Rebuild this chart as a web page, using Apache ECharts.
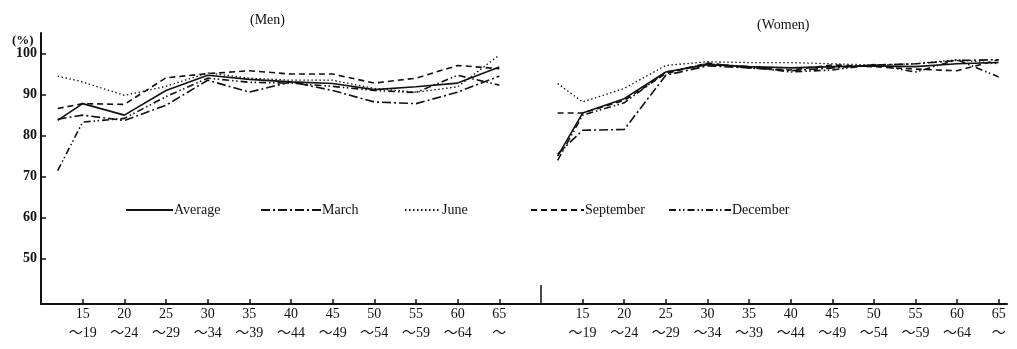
<!DOCTYPE html>
<html>
<head>
<meta charset="utf-8">
<script src="https://cdn.jsdelivr.net/npm/echarts@6/dist/echarts.min.js"></script>
<style>
  html, body { margin: 0; padding: 0; background: #fff; }
  #chart { width: 1017px; height: 349px; }
</style>
</head>
<body>
<div id="chart"></div>
<script>
// ages (start of each age group; first point is the youngest group)
const ages = [12, 15, 20, 25, 30, 35, 40, 45, 50, 55, 60, 65];
const tickAges = [15, 20, 25, 30, 35, 40, 45, 50, 55, 60, 65];
const yTicks = [50, 60, 70, 80, 90, 100];

const seriesNames = ['Average', 'March', 'June', 'September', 'December'];

// Men
const menAverage = [83.7, 87.8, 85.0, 91.0, 94.7, 93.7, 93.1, 92.7, 91.2, 91.9, 92.8, 96.7];
const menMarch = [84.0, 85.0, 83.7, 87.4, 93.5, 90.6, 93.1, 91.0, 88.2, 87.8, 90.6, 94.5];
const menJune = [94.5, 93.1, 89.8, 92.0, 95.3, 94.0, 93.5, 93.5, 91.5, 90.6, 91.9, 99.6];
const menSeptember = [86.6, 87.8, 87.6, 94.1, 95.1, 95.8, 95.0, 95.0, 92.8, 94.0, 97.1, 96.3];
const menDecember = [71.5, 83.3, 84.2, 89.5, 94.0, 93.0, 92.8, 92.0, 91.0, 90.5, 94.7, 92.3];

// Women
const womenAverage = [75.0, 85.5, 89.0, 95.5, 97.3, 96.8, 96.5, 96.8, 97.0, 96.8, 97.5, 97.8];
const womenMarch = [75.5, 81.3, 81.5, 94.7, 97.0, 96.5, 95.8, 96.5, 97.2, 97.5, 98.3, 98.5];
const womenJune = [92.7, 88.2, 91.5, 97.1, 98.0, 97.8, 97.8, 97.5, 97.2, 97.5, 98.5, 97.5];
const womenSeptember = [85.5, 85.5, 88.6, 95.1, 97.7, 96.5, 96.0, 97.2, 96.8, 96.2, 95.8, 98.5];
const womenDecember = [74.0, 85.0, 88.0, 95.5, 97.5, 96.8, 95.5, 96.0, 97.3, 95.5, 98.5, 94.3];

const menData = [menAverage, menMarch, menJune, menSeptember, menDecember];
const womenData = [womenAverage, womenMarch, womenJune, womenSeptember, womenDecember];

const ink = '#111';
const serif = '"Liberation Serif", "DejaVu Serif", "Noto Sans CJK JP", serif';
const dashes = ['solid', [9, 3, 2, 3], [1.5, 2.5], [6, 4], [7, 3, 1.5, 2.5, 1.5, 3]];

const chart = echarts.init(document.getElementById('chart'));

const xAxisBase = (gridIndex, max) => ({
  type: 'value',
  gridIndex,
  min: 10,
  max,
  interval: 5,
  splitLine: { show: false },
  axisLine: { lineStyle: { color: ink, width: 2 } },
  axisTick: {
    inside: true,
    length: 5,
    customValues: tickAges,
    lineStyle: { color: ink, width: 1.5 },
  },
  axisLabel: {
    customValues: tickAges,
    margin: 1,
    color: ink,
    fontFamily: serif,
    fontSize: 14,
    lineHeight: 19,
    formatter: (v) => (v === 65 ? '65\n〜' : v + '\n〜' + (v + 4)),
  },
});

const yAxisBase = (gridIndex, show) => ({
  type: 'value',
  gridIndex,
  min: 39,
  max: 105,
  show,
  splitLine: { show: false },
  axisLine: { show: true, lineStyle: { color: ink, width: 2 } },
  axisTick: {
    inside: true,
    length: 5,
    customValues: yTicks,
    lineStyle: { color: ink, width: 1.5 },
  },
  axisLabel: {
    customValues: yTicks,
    margin: 4,
    color: ink,
    fontFamily: serif,
    fontSize: 14,
    fontWeight: 'bold',
  },
});

const series = [];
[menData, womenData].forEach((group, gi) => {
  group.forEach((vals, si) => {
    series.push({
      name: seriesNames[si],
      type: 'line',
      xAxisIndex: gi,
      yAxisIndex: gi,
      symbol: 'none',
      silent: true,
      itemStyle: { color: ink },
      lineStyle: { color: ink, width: si === 2 ? 1.3 : 1.6, type: dashes[si] },
      data: ages.map((a, i) => [a, vals[i]]),
    });
  });
});

const legendLefts = [125, 260, 404, 530, 668];
const legendWidths = [47, 60, 36, 53, 62];

const option = {
  backgroundColor: '#fff',
  animation: false,
  color: [ink],
  title: [
    { text: '(Men)', left: 245, top: 8, textStyle: { fontFamily: serif, fontSize: 14, fontWeight: 'normal', color: ink } },
    { text: '(Women)', left: 752, top: 13, textStyle: { fontFamily: serif, fontSize: 14, fontWeight: 'normal', color: ink } },
    { text: '(%)', left: 7, top: 29, textStyle: { fontFamily: serif, fontSize: 13, fontWeight: 'bold', color: ink } },
  ],
  legend: seriesNames.map((n, i) => ({
    data: [n],
    left: legendLefts[i],
    top: 203,
    itemWidth: legendWidths[i],
    itemHeight: 12,
    itemGap: 0,
    padding: 0,
    selectedMode: false,
    itemStyle: { opacity: 0 },
    textStyle: { fontFamily: serif, fontSize: 14, color: ink, padding: [0, 0, 0, -4] },
  })),
  grid: [
    { left: 41, top: 33, width: 500, height: 271 },
    { left: 541, top: 33, width: 466, height: 271 },
  ],
  xAxis: [xAxisBase(0, 70), xAxisBase(1, 66)],
  yAxis: [yAxisBase(0, true), yAxisBase(1, false)],
  series,
  graphic: [
    {
      type: 'line',
      shape: { x1: 541, y1: 285, x2: 541, y2: 304 },
      style: { stroke: ink, lineWidth: 1.5 },
    },
  ],
};

chart.setOption(option);
</script>
</body>
</html>
